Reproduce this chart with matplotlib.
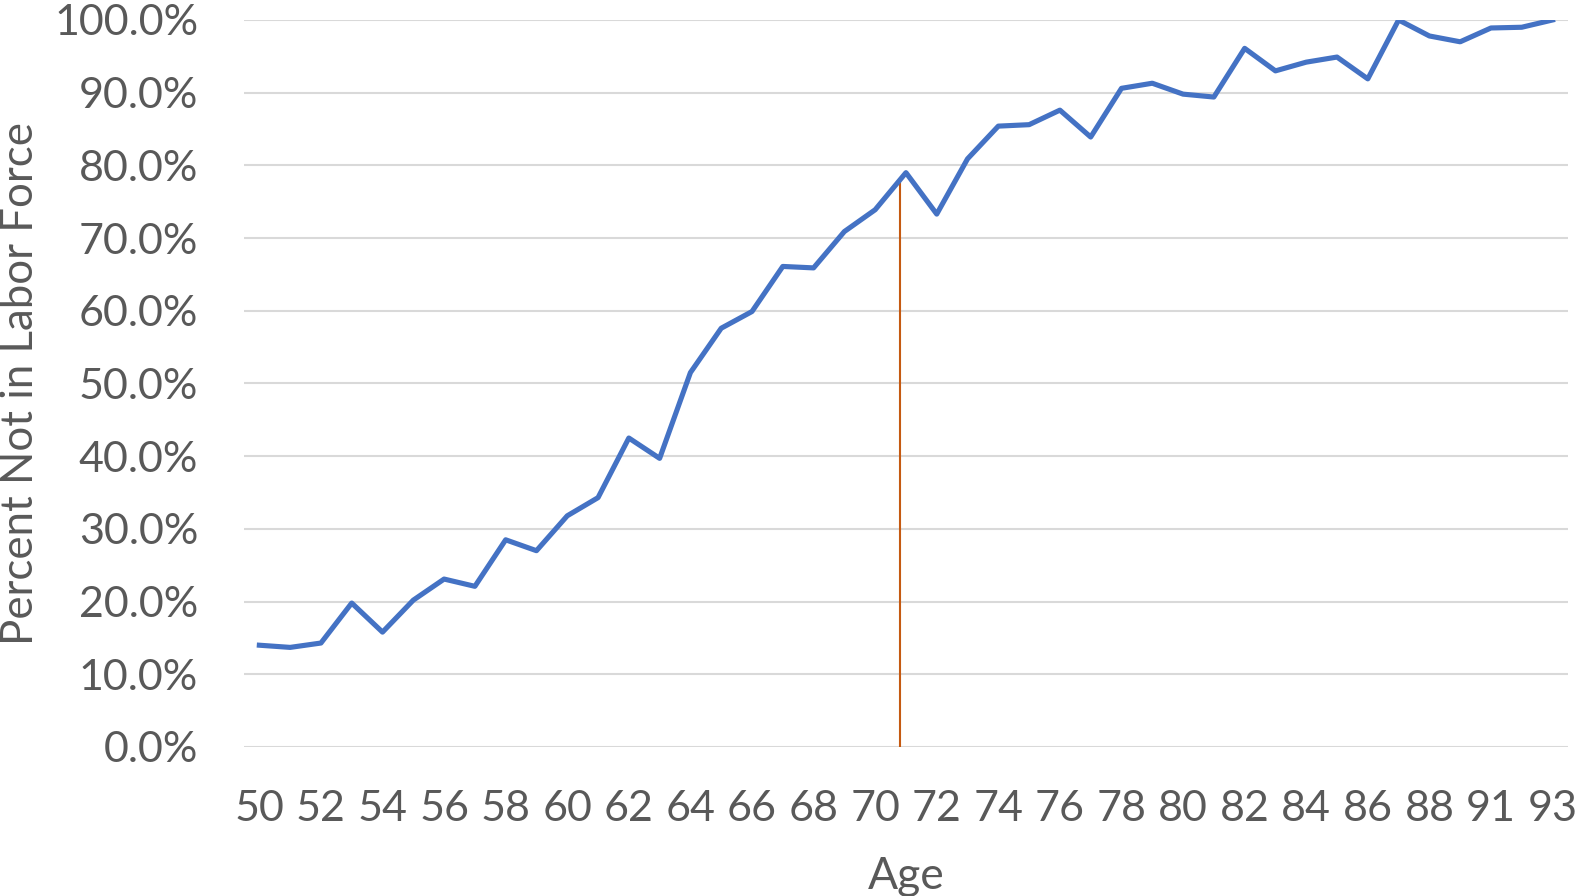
import matplotlib
matplotlib.use("Agg")
import matplotlib.pyplot as plt
from matplotlib.ticker import PercentFormatter

# ages on the category axis (no 90 in the data)
ages = list(range(50, 90)) + [91, 92, 93]

# share not in labor force, percent
pct_not_in_lf = [
    14.0, 13.7, 14.3, 19.8, 15.8, 20.2, 23.1, 22.1, 28.5, 27.0,
    31.8, 34.3, 42.5, 39.7, 51.5, 57.6, 59.9, 66.1, 65.9, 70.9,
    73.9, 79.0, 73.3, 80.9, 85.4, 85.6, 87.6, 83.9, 90.6, 91.3,
    89.8, 89.4, 96.1, 93.0, 94.2, 94.9, 91.9, 100.0, 97.8, 97.0,
    98.9, 99.0, 100.0,
]

# marker line (category position, height in percent)
marker_pos = 20.8
marker_top = 78.3

plt.rcParams['font.family'] = ['Lato', 'DejaVu Sans']
text_color = '#595959'

fig = plt.figure(figsize=(15.79, 8.96), dpi=100)
ax = fig.add_axes([0.1545, 0.1663, 0.8385, 0.8114])

x = list(range(len(ages)))
ax.plot(x, pct_not_in_lf, color='#4472C4', linewidth=3.7, solid_joinstyle='round', zorder=3)
ax.vlines(marker_pos, 0, marker_top, color='#C55A11', linewidth=1.5, zorder=2)

ax.set_xlim(-0.5, len(ages) - 0.5)
ax.set_ylim(0, 100)
ax.set_yticks(range(0, 101, 10))
ax.yaxis.set_major_formatter(PercentFormatter(decimals=1))
ax.set_xticks(x[::2])
ax.set_xticklabels([str(a) for a in ages[::2]])

ax.grid(axis='y', color='#D9D9D9', linewidth=1.5, zorder=0)
ax.set_axisbelow(True)
for s in ax.spines.values():
    s.set_visible(False)
ax.tick_params(axis='both', length=0, labelsize=31, labelcolor=text_color)
ax.tick_params(axis='y', pad=33)
ax.tick_params(axis='x', pad=31)

ax.set_xlabel('Age', fontsize=32, color=text_color, va='center')
ax.xaxis.set_label_coords(0.5, -0.1775)
ax.set_ylabel('Percent Not in Labor Force', fontsize=31.5, color=text_color, va='center')
ax.yaxis.set_label_coords(-0.169, 0.5)

fig.savefig('out.png', dpi=100)
